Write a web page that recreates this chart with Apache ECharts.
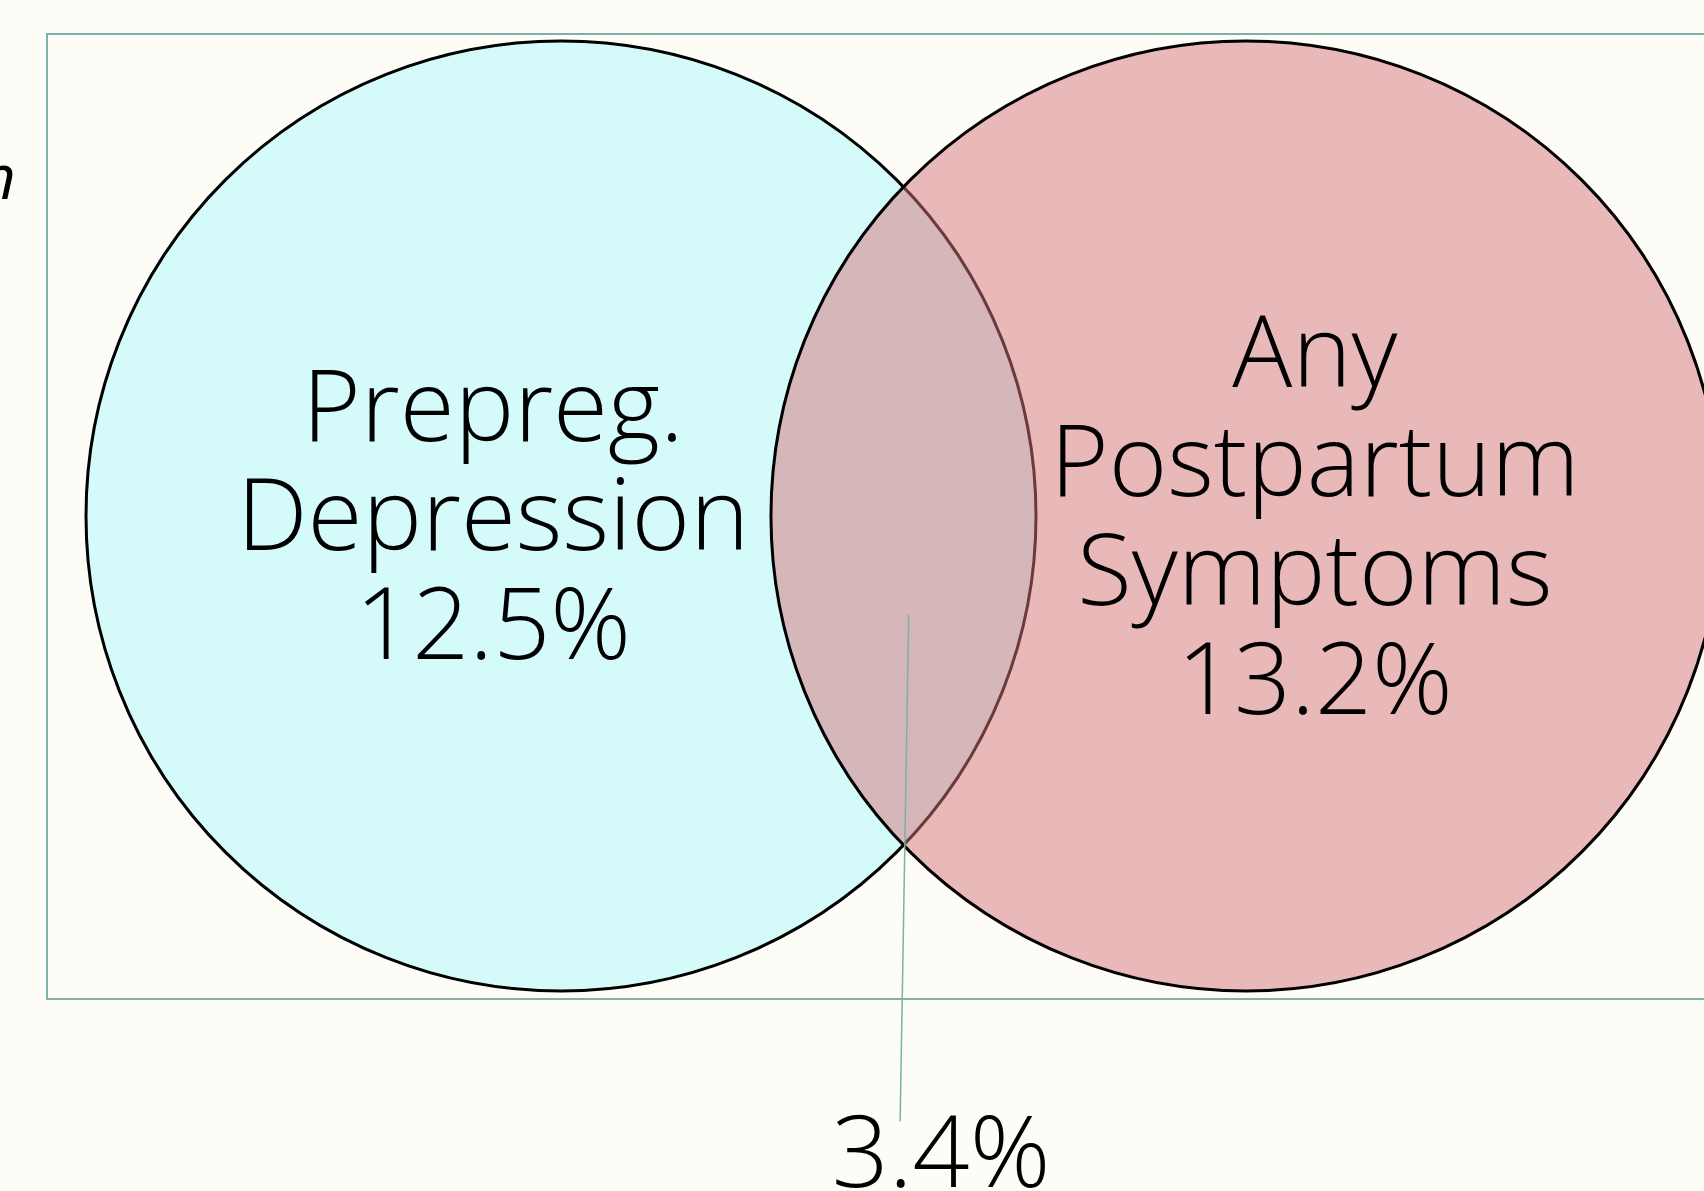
<!DOCTYPE html>
<html>
<head>
<meta charset="utf-8">
<script src="https://cdn.jsdelivr.net/npm/echarts@6/dist/echarts.min.js"></script>
<style>
  html, body { margin: 0; padding: 0; background: #fdfcf7; }
  #main { width: 1704px; height: 1191px; }
</style>
</head>
<body>
<div id="main"></div>
<script>
// data
const setNames = ['Prepreg.\nDepression', 'Any\nPostpartum\nSymptoms'];
const setShares = [12.5, 13.2];
const overlapShare = 3.4;

// layout, in circle-radius units on hidden value axes
const centres = [[0, 0], [1.442, 0]];
const labelAt = [[-0.143, -0.012], [1.587, -0.012]];
const overlapLabelAt = [0.80, -1.352];
const leaderFrom = [0.732, -0.208];
const leaderTo = [0.714, -1.274];

const fills = ['#d4fbfa', 'rgba(213,116,121,0.5)'];
const font = '"Open Sans", Lato, sans-serif';

var myChart = echarts.init(document.getElementById('main'));

function pct(v) {
  return v.toFixed(1) + '%';
}

const options = {
  backgroundColor: '#fdfcf7',
  animation: false,
  grid: {
    left: 47, top: 34, width: 1700, height: 965,
    outerBoundsMode: 'none',
    show: true,
    borderColor: '#7fb0a9',
    borderWidth: 2,
    backgroundColor: 'transparent'
  },
  xAxis: { type: 'value', min: -1.0821, max: 2.4968, show: false },
  yAxis: { type: 'value', min: -1.0168, max: 1.0147, show: false },
  graphic: [
    {
      type: 'text', x: -20, y: 150,
      style: { text: 'n', font: 'italic 400 62px ' + font, fill: '#000' }
    }
  ],
  series: [
    {
      type: 'custom',
      name: 'sets',
      data: setShares.map((v, i) => [centres[i][0], centres[i][1], v]),
      renderItem: function (params, api) {
        const c = api.coord([api.value(0), api.value(1)]);
        const r = api.size([1, 1])[0];
        return {
          type: 'circle',
          shape: { cx: c[0], cy: c[1], r: r },
          style: { fill: fills[params.dataIndex], stroke: '#000', lineWidth: 3 }
        };
      },
      z: 2
    },
    {
      type: 'custom',
      name: 'labels',
      data: setShares.map((v, i) => [labelAt[i][0], labelAt[i][1], v]),
      renderItem: function (params, api) {
        const c = api.coord([api.value(0), api.value(1)]);
        return {
          type: 'text',
          x: c[0], y: c[1],
          style: {
            text: setNames[params.dataIndex] + '\n' + pct(api.value(2)),
            align: 'center', verticalAlign: 'middle',
            font: '300 100px ' + font, lineHeight: 109, fill: '#000'
          }
        };
      },
      z: 3
    },
    {
      type: 'custom',
      name: 'overlap',
      data: [[overlapLabelAt[0], overlapLabelAt[1], overlapShare]],
      renderItem: function (params, api) {
        const c = api.coord([api.value(0), api.value(1)]);
        const a = api.coord(leaderFrom);
        const b = api.coord(leaderTo);
        return {
          type: 'group',
          children: [
            {
              type: 'line',
              shape: { x1: a[0], y1: a[1], x2: b[0], y2: b[1] },
              style: { stroke: '#7fb0a9', lineWidth: 1.5 }
            },
            {
              type: 'text', x: c[0], y: c[1],
              style: {
                text: pct(api.value(2)),
                align: 'center', verticalAlign: 'middle',
                font: '300 100px ' + font, fill: '#000'
              }
            }
          ]
        };
      },
      z: 4
    }
  ]
};

myChart.setOption(options);
window.onresize = function () {
  myChart.resize();
};
</script>
</body>
</html>
